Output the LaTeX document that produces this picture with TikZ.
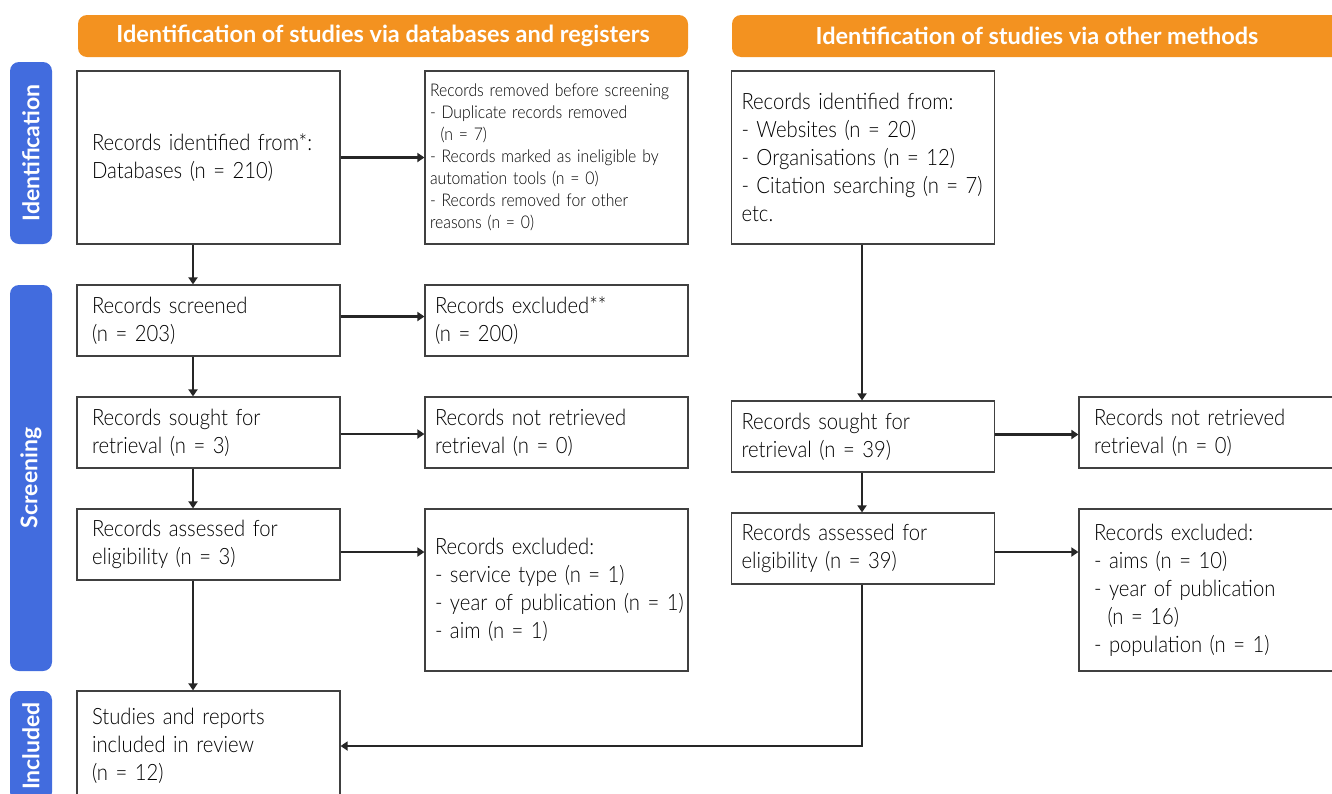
\documentclass[tikz,border=0pt]{standalone}
\usepackage{fontspec}
\setmainfont{Lato Light}[FakeStretch=0.9]
\newfontfamily\headfont{Lato Bold}
\usetikzlibrary{arrows.meta}
\definecolor{prismaorange}{RGB}{243,146,32}
\definecolor{prismablue}{RGB}{66,108,222}
\begin{document}
\begin{tikzpicture}[x=1pt,y=-1pt,
  box/.style={draw=black!75,line width=1.2pt,minimum width=263pt,text width=233pt,
    inner xsep=15pt,align=left,font=\fontsize{22.5}{28}\selectfont},
  narrowpad/.style={inner xsep=10pt,text width=243pt},
  smallbox/.style={box,inner xsep=5pt,text width=253pt,font=\fontsize{17.5}{22}\selectfont},
  banner/.style={fill=prismaorange,rounded corners=9pt,minimum width=610pt,minimum height=42pt,
    text=white,font=\headfont\fontsize{23.5}{26}\selectfont},
  phase/.style={fill=prismablue,rounded corners=9pt,minimum height=42pt,rotate=90,
    text=white,font=\headfont\fontsize{23}{26}\selectfont},
  flow/.style={-{Triangle[length=7pt,width=9pt]},line width=2.2pt,black!85}]
\clip (0,0) rectangle (1332,793);
\node [banner] (db) at (383,36) {Identification of studies via databases and registers};
\node [banner] (om) at (1037,36) {Identification of studies via other methods};
\node [phase,minimum width=182pt] (ph1) at (31,153) {Identification};
\node [phase,minimum width=386pt] (ph2) at (31,478) {Screening};
\node [phase,minimum width=110pt] (ph3) at (31,746) {Included};

\node [box,minimum height=173pt] (ident) at (208.5,157.5) {\mbox{Records identified from*:}\\Databases (n = 210)};
\node [smallbox,minimum height=173pt] (removed) at (556.5,157.5) {\mbox{Records removed before screening}\\- Duplicate records removed\\\hspace*{0.6em}(n = 7)\\\mbox{- Records marked as ineligible by}\\automation tools (n = 0)\\- Records removed for other\\reasons (n = 0)};
\node [box,minimum height=71pt] (screened) at (208.5,320.5) {Records screened\\(n = 203)};
\node [box,narrowpad,minimum height=71pt] (excl) at (556.5,320.5) {Records excluded**\\(n = 200)};
\node [box,minimum height=71pt] (sought) at (208.5,432.5) {Records sought for\\retrieval (n = 3)};
\node [box,narrowpad,minimum height=71pt] (notret) at (556.5,432.5) {Records not retrieved\\retrieval (n = 0)};
\node [box,minimum height=71pt] (assessed) at (208.5,544.5) {Records assessed for\\eligibility (n = 3)};
\node [box,narrowpad,minimum height=162pt] (reasons) at (556.5,590) {Records excluded:\\- service type (n = 1)\\\mbox{- year of publication (n = 1)}\\- aim (n = 1)};
\node [box,minimum height=110pt] (included) at (208.5,746) {Studies and reports\\included in review\\(n = 12)};

\node [box,narrowpad,minimum height=173pt] (other) at (863,157.5) {Records identified from:\\- Websites (n = 20)\\- Organisations (n = 12)\\\mbox{- Citation searching (n = 7)}\\etc.};
\node [box,narrowpad,minimum height=71pt] (sought2) at (863,436.5) {Records sought for\\retrieval (n = 39)};
\node [box,minimum height=71pt] (notret2) at (1210.5,432.5) {Records not retrieved\\retrieval (n = 0)};
\node [box,narrowpad,minimum height=71pt] (assessed2) at (863,548.5) {Records assessed for\\eligibility (n = 39)};
\node [box,minimum height=162pt] (reasons2) at (1210.5,590) {Records excluded:\\- aims (n = 10)\\- year of publication\\\hspace*{0.6em}(n = 16)\\- population (n = 1)};

\draw [flow] (ident) -- (removed);
\draw [flow] ([yshift=4pt]screened.east) -- ([yshift=4pt]screened.east -| excl.west);
\draw [flow] ([yshift=-1.5pt]sought.east) -- ([yshift=-1.5pt]sought.east -| notret.west);
\draw [flow] ([yshift=-7.5pt]assessed.east) -- ([yshift=-7.5pt]assessed.east -| reasons.west);
\draw [flow] ([xshift=-15.5pt]ident.south) -- ([xshift=-15.5pt]screened.north);
\draw [flow] ([xshift=-15.5pt]screened.south) -- ([xshift=-15.5pt]sought.north);
\draw [flow] ([xshift=-15.5pt]sought.south) -- ([xshift=-15.5pt]assessed.north);
\draw [flow] ([xshift=-15.5pt]assessed.south) -- ([xshift=-15.5pt]included.north);

\draw [flow] ([xshift=-1pt]other.south) -- ([xshift=-1pt]sought2.north);
\draw [flow] ([xshift=-1pt]sought2.south) -- ([xshift=-1pt]assessed2.north);
\draw [flow] ([yshift=2pt]sought2.east) -- ([yshift=2pt]sought2.east -| notret2.west);
\draw [flow] ([yshift=-3.5pt]assessed2.east) -- ([yshift=-3.5pt]assessed2.east -| reasons2.west);
\draw [flow] ([xshift=-1pt]assessed2.south) |- (included.east);
\end{tikzpicture}
\end{document}
